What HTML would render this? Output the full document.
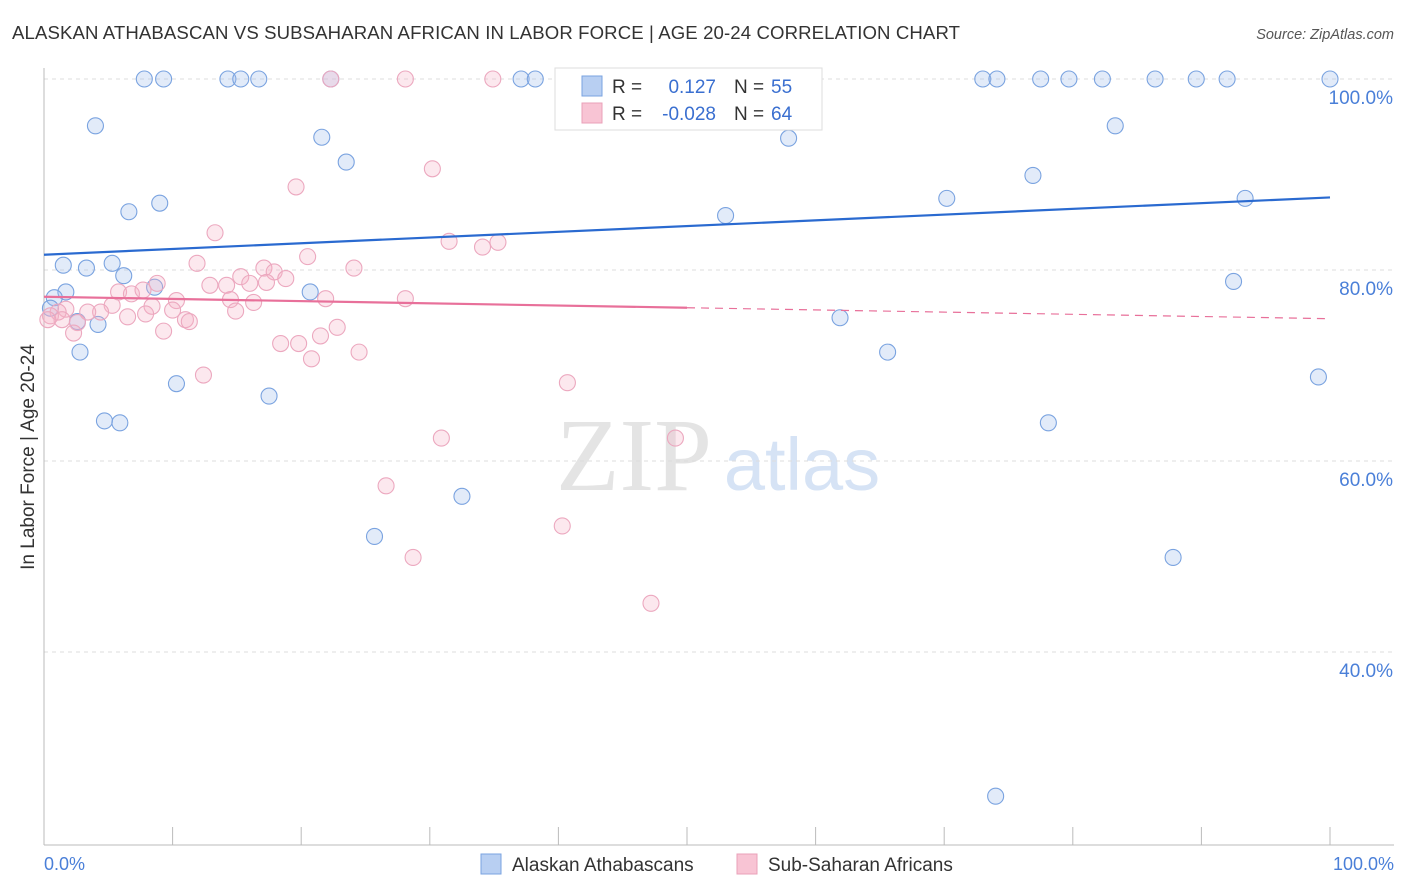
<!DOCTYPE html>
<html><head><meta charset="utf-8"><style>
body{margin:0;background:#fff;font-family:"Liberation Sans",sans-serif;}
#c{position:absolute;left:0;top:0;}
</style></head><body>
<svg id="c" width="1406" height="892" xmlns="http://www.w3.org/2000/svg">
<text x="12" y="39" font-size="18.6" fill="#333" textLength="948">ALASKAN ATHABASCAN VS SUBSAHARAN AFRICAN IN LABOR FORCE | AGE 20-24 CORRELATION CHART</text>
<text x="1394" y="39" font-size="14.5" fill="#555" font-style="italic" text-anchor="end">Source: ZipAtlas.com</text>
<g>
<text x="634" y="490" font-size="104" font-family="Liberation Serif,serif" fill="#e4e4e4" text-anchor="middle">ZIP</text>
<text x="802" y="490" font-size="74" fill="#d6e3f5" text-anchor="middle">atlas</text>
</g>
<g id="grid"></g>
<g id="axes"></g>
<g id="pts"></g>
<g id="lines"></g>
<text transform="translate(34,457) rotate(-90)" font-size="19" fill="#333" text-anchor="middle">In Labor Force | Age 20-24</text>
<text x="44" y="870" font-size="18" fill="#4a7fd8">0.0%</text>
<text x="1394" y="870" font-size="18" fill="#4a7fd8" text-anchor="end">100.0%</text>
<g>
<rect x="555" y="68" width="267" height="62" fill="#fff" stroke="#ddd"/>
<rect x="582" y="76" width="20" height="20" fill="#b8cff2" stroke="#7aa3e0"/>
<rect x="582" y="103" width="20" height="20" fill="#f8c4d4" stroke="#eaa0b8"/>
<text x="612" y="93" font-size="19" fill="#333">R =</text>
<text x="716" y="93" font-size="19" fill="#3a6fd0" text-anchor="end">0.127</text>
<text x="734" y="93" font-size="19" fill="#333">N =</text>
<text x="771" y="93" font-size="19" fill="#3a6fd0">55</text>
<text x="612" y="120" font-size="19" fill="#333">R =</text>
<text x="716" y="120" font-size="19" fill="#3a6fd0" text-anchor="end">-0.028</text>
<text x="734" y="120" font-size="19" fill="#333">N =</text>
<text x="771" y="120" font-size="19" fill="#3a6fd0">64</text>
</g>
<g>
<rect x="481" y="854" width="20" height="20" fill="#b8cff2" stroke="#7aa3e0"/>
<text x="512" y="871" font-size="19" fill="#333">Alaskan Athabascans</text>
<rect x="737" y="854" width="20" height="20" fill="#f8c4d4" stroke="#eaa0b8"/>
<text x="768" y="871" font-size="19" fill="#333">Sub-Saharan Africans</text>
</g>
</svg>
<script>
const blueX=[7.8,9.3,14.3,15.3,16.7,22.3,37.1,38.2,41.2,73.0,74.1,77.5,79.7,82.3,86.4,89.6,92.0,100,4.0,21.6,23.5,57.9,83.3,6.6,9.0,53.0,70.2,76.9,93.4,1.5,3.3,5.3,6.2,8.6,1.7,0.8,0.5,4.2,2.6,2.8,20.7,10.3,17.5,4.7,5.9,61.9,65.6,92.5,99.1,78.1,32.5,25.7,87.8,74.0];
const blueY=[100,100,100,100,100,100,100,100,100,100,100,100,100,100,100,100,100,100,95.1,93.9,91.3,93.8,95.1,86.1,87.0,85.7,87.5,89.9,87.5,80.5,80.2,80.7,79.4,78.2,77.7,77.1,76.0,74.3,74.6,71.4,77.7,68.1,66.8,64.2,64.0,75.0,71.4,78.8,68.8,64.0,56.3,52.1,49.9,24.9];
const pinkX=[22.3,28.1,34.9,19.6,30.2,13.3,31.5,34.1,35.3,11.9,20.5,24.1,17.1,17.9,15.3,18.8,17.3,12.9,14.2,16.0,8.8,5.8,6.8,7.7,10.3,8.4,14.5,16.3,21.9,28.1,10.0,5.3,4.4,3.4,1.7,1.1,0.5,1.4,2.6,6.5,7.9,11.0,11.3,14.9,9.3,2.3,22.8,21.5,18.4,19.8,20.8,24.5,12.4,40.7,30.9,49.1,26.6,40.3,28.7,47.2,0.3];
const pinkY=[100,100,100,88.7,90.6,83.9,83.0,82.4,82.9,80.7,81.4,80.2,80.2,79.8,79.3,79.1,78.7,78.4,78.4,78.6,78.6,77.7,77.5,77.9,76.8,76.2,76.9,76.6,77.0,77.0,75.8,76.3,75.6,75.6,75.9,75.6,75.2,74.8,74.5,75.1,75.4,74.8,74.6,75.7,73.6,73.4,74.0,73.1,72.3,72.3,70.7,71.4,69.0,68.2,62.4,62.4,57.4,53.2,49.9,45.1,74.8];
const blueTrend=[81.6,87.6];
const pinkTrend=[77.2,74.9];
const yTicks=[100,80,60,40];
const xTicks=[0,10,20,30,40,50,60,70,80,90,100];
const NS='http://www.w3.org/2000/svg';
const sx=v=>44+v*12.86, sy=v=>1034-v*9.55;
function mk(t,a,p){const e=document.createElementNS(NS,t);for(const k in a)e.setAttribute(k,a[k]);document.getElementById(p).appendChild(e);return e;}
yTicks.forEach(v=>{
 const g=mk('line',{x1:44,x2:1394,y1:sy(v),y2:sy(v),stroke:'#ddd','stroke-dasharray':'4,4'},'grid');
 
 
 const t=mk('text',{x:1393,y:sy(v)+25,'font-size':19,fill:'#4a7fd8','text-anchor':'end'},'grid');
 t.textContent=v.toFixed(1)+'%';
 
 
});
const ya=mk('line',{x1:44,x2:44,y1:68,y2:845,stroke:'#bbb'},'axes');


const xa=mk('line',{x1:44,x2:1394,y1:845,y2:845,stroke:'#bbb'},'axes');


xTicks.forEach(v=>{const l=mk('line',{x1:sx(v),x2:sx(v),y1:827,y2:845,stroke:'#bbb'},'axes');
 
 });
blueX.forEach((x,i)=>{const c=mk('circle',{cx:sx(x),cy:sy(blueY[i]),r:8,fill:'rgba(160,190,235,0.3)',stroke:'#7aa3e0','stroke-width':1.1},'pts');
 
 });
pinkX.forEach((x,i)=>{const c=mk('circle',{cx:sx(x),cy:sy(pinkY[i]),r:8,fill:'rgba(245,180,200,0.3)',stroke:'#eca8bf','stroke-width':1.1},'pts');
 
 });
const bl=mk('line',{x1:sx(0),y1:sy(blueTrend[0]),x2:sx(100),y2:sy(blueTrend[1]),stroke:'#2a6ad0','stroke-width':2.2},'lines');


const pm=pinkTrend[0]+(pinkTrend[1]-pinkTrend[0])*0.5;
const pl=mk('line',{x1:sx(0),y1:sy(pinkTrend[0]),x2:sx(50),y2:sy(pm),stroke:'#e8709a','stroke-width':2.2},'lines');


const pd=mk('line',{x1:sx(50),y1:sy(pm),x2:sx(100),y2:sy(pinkTrend[1]),stroke:'#e8709a','stroke-width':1.2,'stroke-dasharray':'8,6'},'lines');


</script>
</body></html>
